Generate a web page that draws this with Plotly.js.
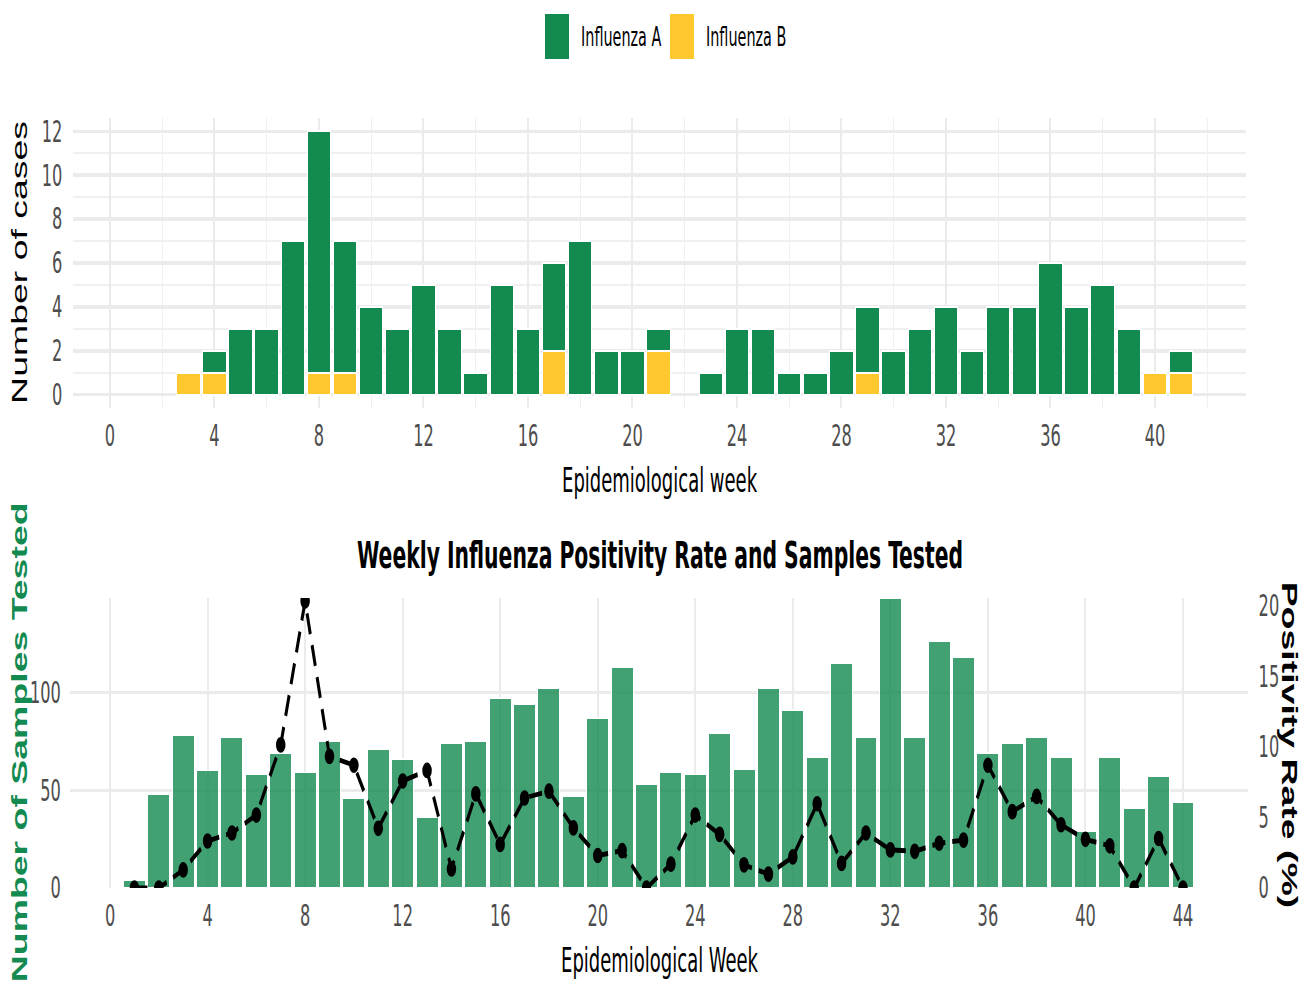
<!DOCTYPE html>
<html>
<head>
<meta charset="utf-8">
<script src="https://cdn.plot.ly/plotly-3.0.1.min.js"></script>
<style>
html,body{margin:0;padding:0;background:#fff;overflow:hidden;width:1314px;height:985px;}
#chart{width:1314px;height:597px;transform:scaleY(1.64992);transform-origin:0 0;}
</style>
</head>
<body>
<div id="chart"></div>
<script>
// ---------- DATA ----------
const caseWeeks = [1,2,3,4,5,6,7,8,9,10,11,12,13,14,15,16,17,18,19,20,21,22,23,24,25,26,27,28,29,30,31,32,33,34,35,36,37,38,39,40,41];
const influenzaA = [0,0,0,1,3,3,7,11,6,4,3,5,3,1,5,3,4,7,2,2,1,0,1,3,3,1,1,2,3,2,3,4,2,4,4,6,4,5,3,0,1];
const influenzaB = [0,0,1,1,0,0,0,1,1,0,0,0,0,0,0,0,2,0,0,0,2,0,0,0,0,0,0,0,1,0,0,0,0,0,0,0,0,0,0,1,1];

const testWeeks = [1,2,3,4,5,6,7,8,9,10,11,12,13,14,15,16,17,18,19,20,21,22,23,24,25,26,27,28,29,30,31,32,33,34,35,36,37,38,39,40,41,42,43,44];
const samplesTested = [4,48,78,60,77,58,69,59,75,46,71,66,36,74,75,97,94,102,47,87,113,53,59,58,79,61,102,91,67,115,77,148,77,126,118,69,74,77,67,29,67,41,57,44];
const positivityRate = [0,0,1.28,3.33,3.9,5.17,10.14,20.34,9.33,8.7,4.23,7.58,8.33,1.35,6.67,3.09,6.38,6.86,4.26,2.3,2.65,0,1.69,5.17,3.8,1.64,0.98,2.2,5.97,1.74,3.9,2.7,2.6,3.17,3.39,8.7,5.41,6.49,4.48,3.45,2.99,0,3.51,0];

const topXTicks = [0,4,8,12,16,20,24,28,32,36,40];
const topYTicks = [0,2,4,6,8,10,12];
const bottomXTicks = [0,4,8,12,16,20,24,28,32,36,40,44];
const samplesTicks = [0,50,100];
const positivityTicks = [0,5,10,15,20];

const seriesNames = ['Influenza A','Influenza B'];
const chartTitle = 'Weekly Influenza Positivity Rate and Samples Tested';

// ---------- STYLE ----------
const GREEN = '#138A50';
const YELLOW = '#FFC82E';
const NARROW = "'Liberation Sans Narrow','Arial Narrow','DejaVu Sans Condensed',sans-serif";
const SANS = "'Liberation Sans',Arial,sans-serif";
const tickFont = {family: NARROW, size: 18, color: '#4D4D4D'};
const W = 1314, REFH = 985;
const px = x => x / W;          // reference x pixel -> paper
const py = y => 1 - y / REFH;   // reference y pixel -> paper

const nz = arr => arr.map(v => v === 0 ? null : v);

const traces = [
  {type:'bar', name: seriesNames[1], x: caseWeeks, y: nz(influenzaB), xaxis:'x', yaxis:'y',
   marker:{color: YELLOW, line:{color:'#ffffff', width:1}}, showlegend:false},
  {type:'bar', name: seriesNames[0], x: caseWeeks, y: nz(influenzaA), xaxis:'x', yaxis:'y',
   marker:{color: GREEN, line:{color:'#ffffff', width:1}}, showlegend:false},
  {type:'bar', name:'Samples Tested', x: testWeeks, y: samplesTested, xaxis:'x2', yaxis:'y2',
   marker:{color:'rgba(19,138,80,0.8)', line:{color:'#ffffff', width:1}}, showlegend:false},
  {type:'scatter', mode:'lines+markers', name:'Positivity Rate (%)', x: testWeeks, y: positivityRate,
   xaxis:'x2', yaxis:'y3', line:{color:'#000000', width:3, dash:'13px,7px'},
   marker:{color:'#000000', size:9.5}, showlegend:false}
];

const gridMajor = '#EBEBEB';
const gridMinor = '#F0F0F0';

const layout = {
  width: 1314, height: 597,
  margin: {l:0, r:0, t:0, b:0},
  paper_bgcolor:'#ffffff', plot_bgcolor:'rgba(0,0,0,0)',
  barmode:'stack', bargap:0.1,
  showlegend:false,
  title: {text: chartTitle, x: px(660), y: py(555), xref:'paper', yref:'container', xanchor:'center', yanchor:'middle',
          font:{family: NARROW, size: 22.6, color:'#000000', weight: 700}},
  xaxis: {domain:[px(73.4), px(1246.4)], range:[-1.4, 43.5], anchor:'y',
          tickmode:'array', tickvals: topXTicks, ticktext: topXTicks.map(String),
          showgrid:true, gridcolor:gridMajor, gridwidth:2,
          minor:{tickmode:'linear', tick0:0, dtick:2, showgrid:true, gridcolor:gridMinor, gridwidth:1.2},
          zeroline:false, showline:false, ticks:'', tickfont: tickFont, ticklabelstandoff: 4, fixedrange:true},
  yaxis: {domain:[py(408), py(118)], range:[-0.6, 12.6], anchor:'x',
          tickmode:'array', tickvals: topYTicks, ticktext: topYTicks.map(String),
          showgrid:true, gridcolor:gridMajor, gridwidth:2,
          minor:{tickmode:'linear', tick0:0, dtick:1, showgrid:true, gridcolor:gridMinor, gridwidth:1},
          zeroline:false, showline:false, ticks:'', tickfont: tickFont, ticklabelstandoff: 10, fixedrange:true},
  xaxis2: {domain:[px(69.8), px(1247.6)], range:[-1.65, 46.65], anchor:'y2',
          tickmode:'array', tickvals: bottomXTicks, ticktext: bottomXTicks.map(String),
          showgrid:true, gridcolor:gridMajor, gridwidth:2,
          zeroline:false, showline:false, ticks:'', tickfont: tickFont, ticklabelstandoff: 4, fixedrange:true},
  yaxis2: {domain:[py(888), py(598)], range:[0, 148.3], anchor:'x2',
          tickmode:'array', tickvals: samplesTicks, ticktext: samplesTicks.map(String),
          showgrid:true, gridcolor:gridMajor, gridwidth:2,
          zeroline:false, showline:false, ticks:'', tickfont: tickFont, ticklabelstandoff: 8, fixedrange:true},
  yaxis3: {overlaying:'y2', side:'right', anchor:'x2', range:[0, 20.55],
          tickmode:'array', tickvals: positivityTicks, ticktext: positivityTicks.map(String),
          showgrid:false, zeroline:false, showline:false, ticks:'', tickfont: tickFont, ticklabelstandoff: 10, fixedrange:true},
  shapes: [
    {type:'rect', xref:'paper', yref:'paper', x0:px(545), x1:px(569), y0:py(59), y1:py(14), fillcolor:GREEN, line:{width:0}},
    {type:'rect', xref:'paper', yref:'paper', x0:px(670), x1:px(694), y0:py(59), y1:py(14), fillcolor:YELLOW, line:{width:0}}
  ],
  annotations: [
    {text: seriesNames[0], xref:'paper', yref:'paper', x:px(579), y:py(37), xanchor:'left', yanchor:'middle', showarrow:false,
     font:{family:NARROW, size:16, color:'#000000'}},
    {text: seriesNames[1], xref:'paper', yref:'paper', x:px(704), y:py(37), xanchor:'left', yanchor:'middle', showarrow:false,
     font:{family:NARROW, size:16, color:'#000000'}},
    {text:'Number of cases', xref:'paper', yref:'paper', x:px(19), y:py(262), textangle:-90, xanchor:'center', yanchor:'middle', showarrow:false,
     font:{family:SANS, size:22.7, color:'#000000'}},
    {text:'Epidemiological week', xref:'paper', yref:'paper', x:px(660), y:py(480), xanchor:'center', yanchor:'middle', showarrow:false,
     font:{family:NARROW, size:20, color:'#000000'}},
    {text:'Number of Samples Tested', xref:'paper', yref:'paper', x:px(19), y:py(743), textangle:-90, xanchor:'center', yanchor:'middle', showarrow:false,
     font:{family:SANS, size:22.7, color:GREEN, weight:700}},
    {text:'Positivity Rate (%)', xref:'paper', yref:'paper', x:px(1290), y:py(745), textangle:90, xanchor:'center', yanchor:'middle', showarrow:false,
     font:{family:SANS, size:22.7, color:'#000000', weight:700}},
    {text:'Epidemiological Week', xref:'paper', yref:'paper', x:px(660), y:py(960), xanchor:'center', yanchor:'middle', showarrow:false,
     font:{family:NARROW, size:20, color:'#000000'}}
  ]
};

Plotly.newPlot('chart', traces, layout, {staticPlot:true, displayModeBar:false});
</script>
</body>
</html>
